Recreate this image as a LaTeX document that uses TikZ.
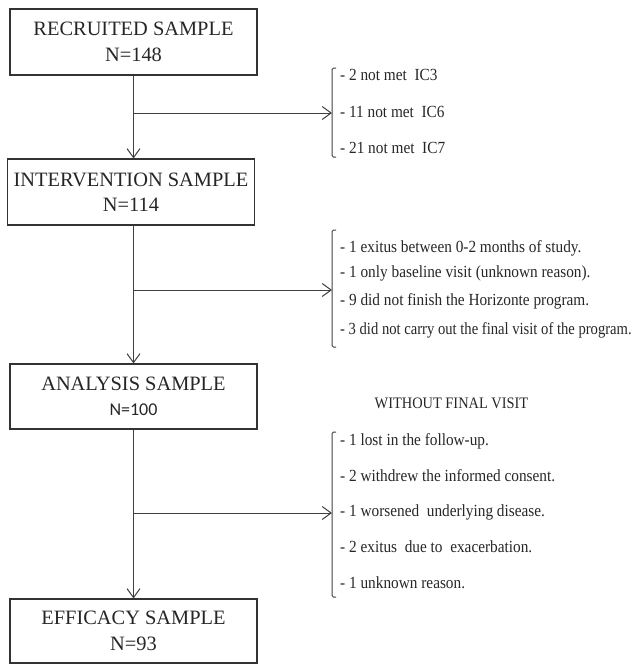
\documentclass[tikz,border=0pt]{standalone}
\usepackage{fontspec}
\setmainfont{Liberation Serif}
\newfontfamily\sidefont[FakeStretch=0.9]{Liberation Serif}
\newfontfamily\sidefontn[FakeStretch=0.86]{Liberation Serif}
\newfontfamily\calfont{Carlito}
\usetikzlibrary{arrows.meta}
\begin{document}
\begin{tikzpicture}[x=1pt,y=-1pt,
  box/.style={draw=black!80, line width=1.1pt, minimum width=247pt, minimum height=66pt,
    inner sep=0pt, text=black!85, font=\fontsize{20.4}{25.5}\selectfont, align=center},
  item/.style={anchor=west, inner sep=0pt, text=black!85, font=\sidefont\fontsize{17}{20}\selectfont},
  conn/.style={draw=black!75, line width=1pt},
  arr/.style={conn, -{Straight Barb[length=9pt,width=13pt]}},
  brk/.style={draw=black!75, line width=1pt, rounded corners=1.5pt}]
\useasboundingbox (0,0) rectangle (643,665);

% main boxes
\node[box] (b1) at (133.5,42) {RECRUITED SAMPLE\\N=148};
\node[box] (b2) at (131,192) {INTERVENTION SAMPLE\\N=114};
\node[box, minimum height=65pt] (b3) at (133.5,396.5) {ANALYSIS SAMPLE\\{\calfont\fontsize{18}{22}\selectfont N=100}};
\node[box, minimum height=64pt] (b4) at (133.5,631) {EFFICACY SAMPLE\\N=93};

% trunk
\draw[arr] (b1.south) -- (b1.south |- b2.north);
\draw[arr] (b2.south -| b1.south) -- (b1.south |- b3.north);
\draw[arr] (b3.south) -- (b3.south |- b4.north);

% junctions and bracket targets
\coordinate (j1) at (133.5,113);
\coordinate (k1) at (332,113);
\coordinate (j2) at (133.5,290);
\coordinate (k2) at (332,290);
\coordinate (j3) at (133.5,513);
\coordinate (k3) at (332,513);
\draw[arr] (j1) -- (k1);
\draw[arr] (j2) -- (k2);
\draw[arr] (j3) -- (k3);

% brackets
\draw[brk] (336,68) -- (332,68) -- (332,157) -- (336,157);
\draw[brk] (336,230) -- (332,230) -- (332,347) -- (336,347);
\draw[brk] (336,432) -- (332,432) -- (332,597) -- (336,597);

% list 1
\node[item] (a1) at (340,75) {- 2 not met\ \ IC3};
\node[item] (a2) at (340,112) {- 11 not met\ \ IC6};
\node[item] (a3) at (340,148) {- 21 not met\ \ IC7};

% list 2
\node[item] (c1) at (340,248) {- 1 exitus between 0-2 months of study.};
\node[item] (c2) at (340,273) {- 1 only baseline visit (unknown reason).};
\node[item] (c3) at (340,301) {- 9 did not finish the Horizonte program.};
\node[item, font=\sidefontn\fontsize{17}{20}\selectfont] (c4) at (340,330) {- 3 did not carry out the final visit of the program.};

% heading
\node[inner sep=0pt, text=black!85, font=\sidefont\fontsize{16}{20}\selectfont] (h) at (451.5,403) {WITHOUT FINAL VISIT};

% list 3
\node[item] (d1) at (340,441) {- 1 lost in the follow-up.};
\node[item] (d2) at (340,476) {- 2 withdrew the informed consent.};
\node[item] (d3) at (340,512) {- 1 worsened\ \ underlying disease.};
\node[item] (d4) at (340,547) {- 2 exitus\ \ due to\ \ exacerbation.};
\node[item] (d5) at (340,583) {- 1 unknown reason.};
\end{tikzpicture}
\end{document}
